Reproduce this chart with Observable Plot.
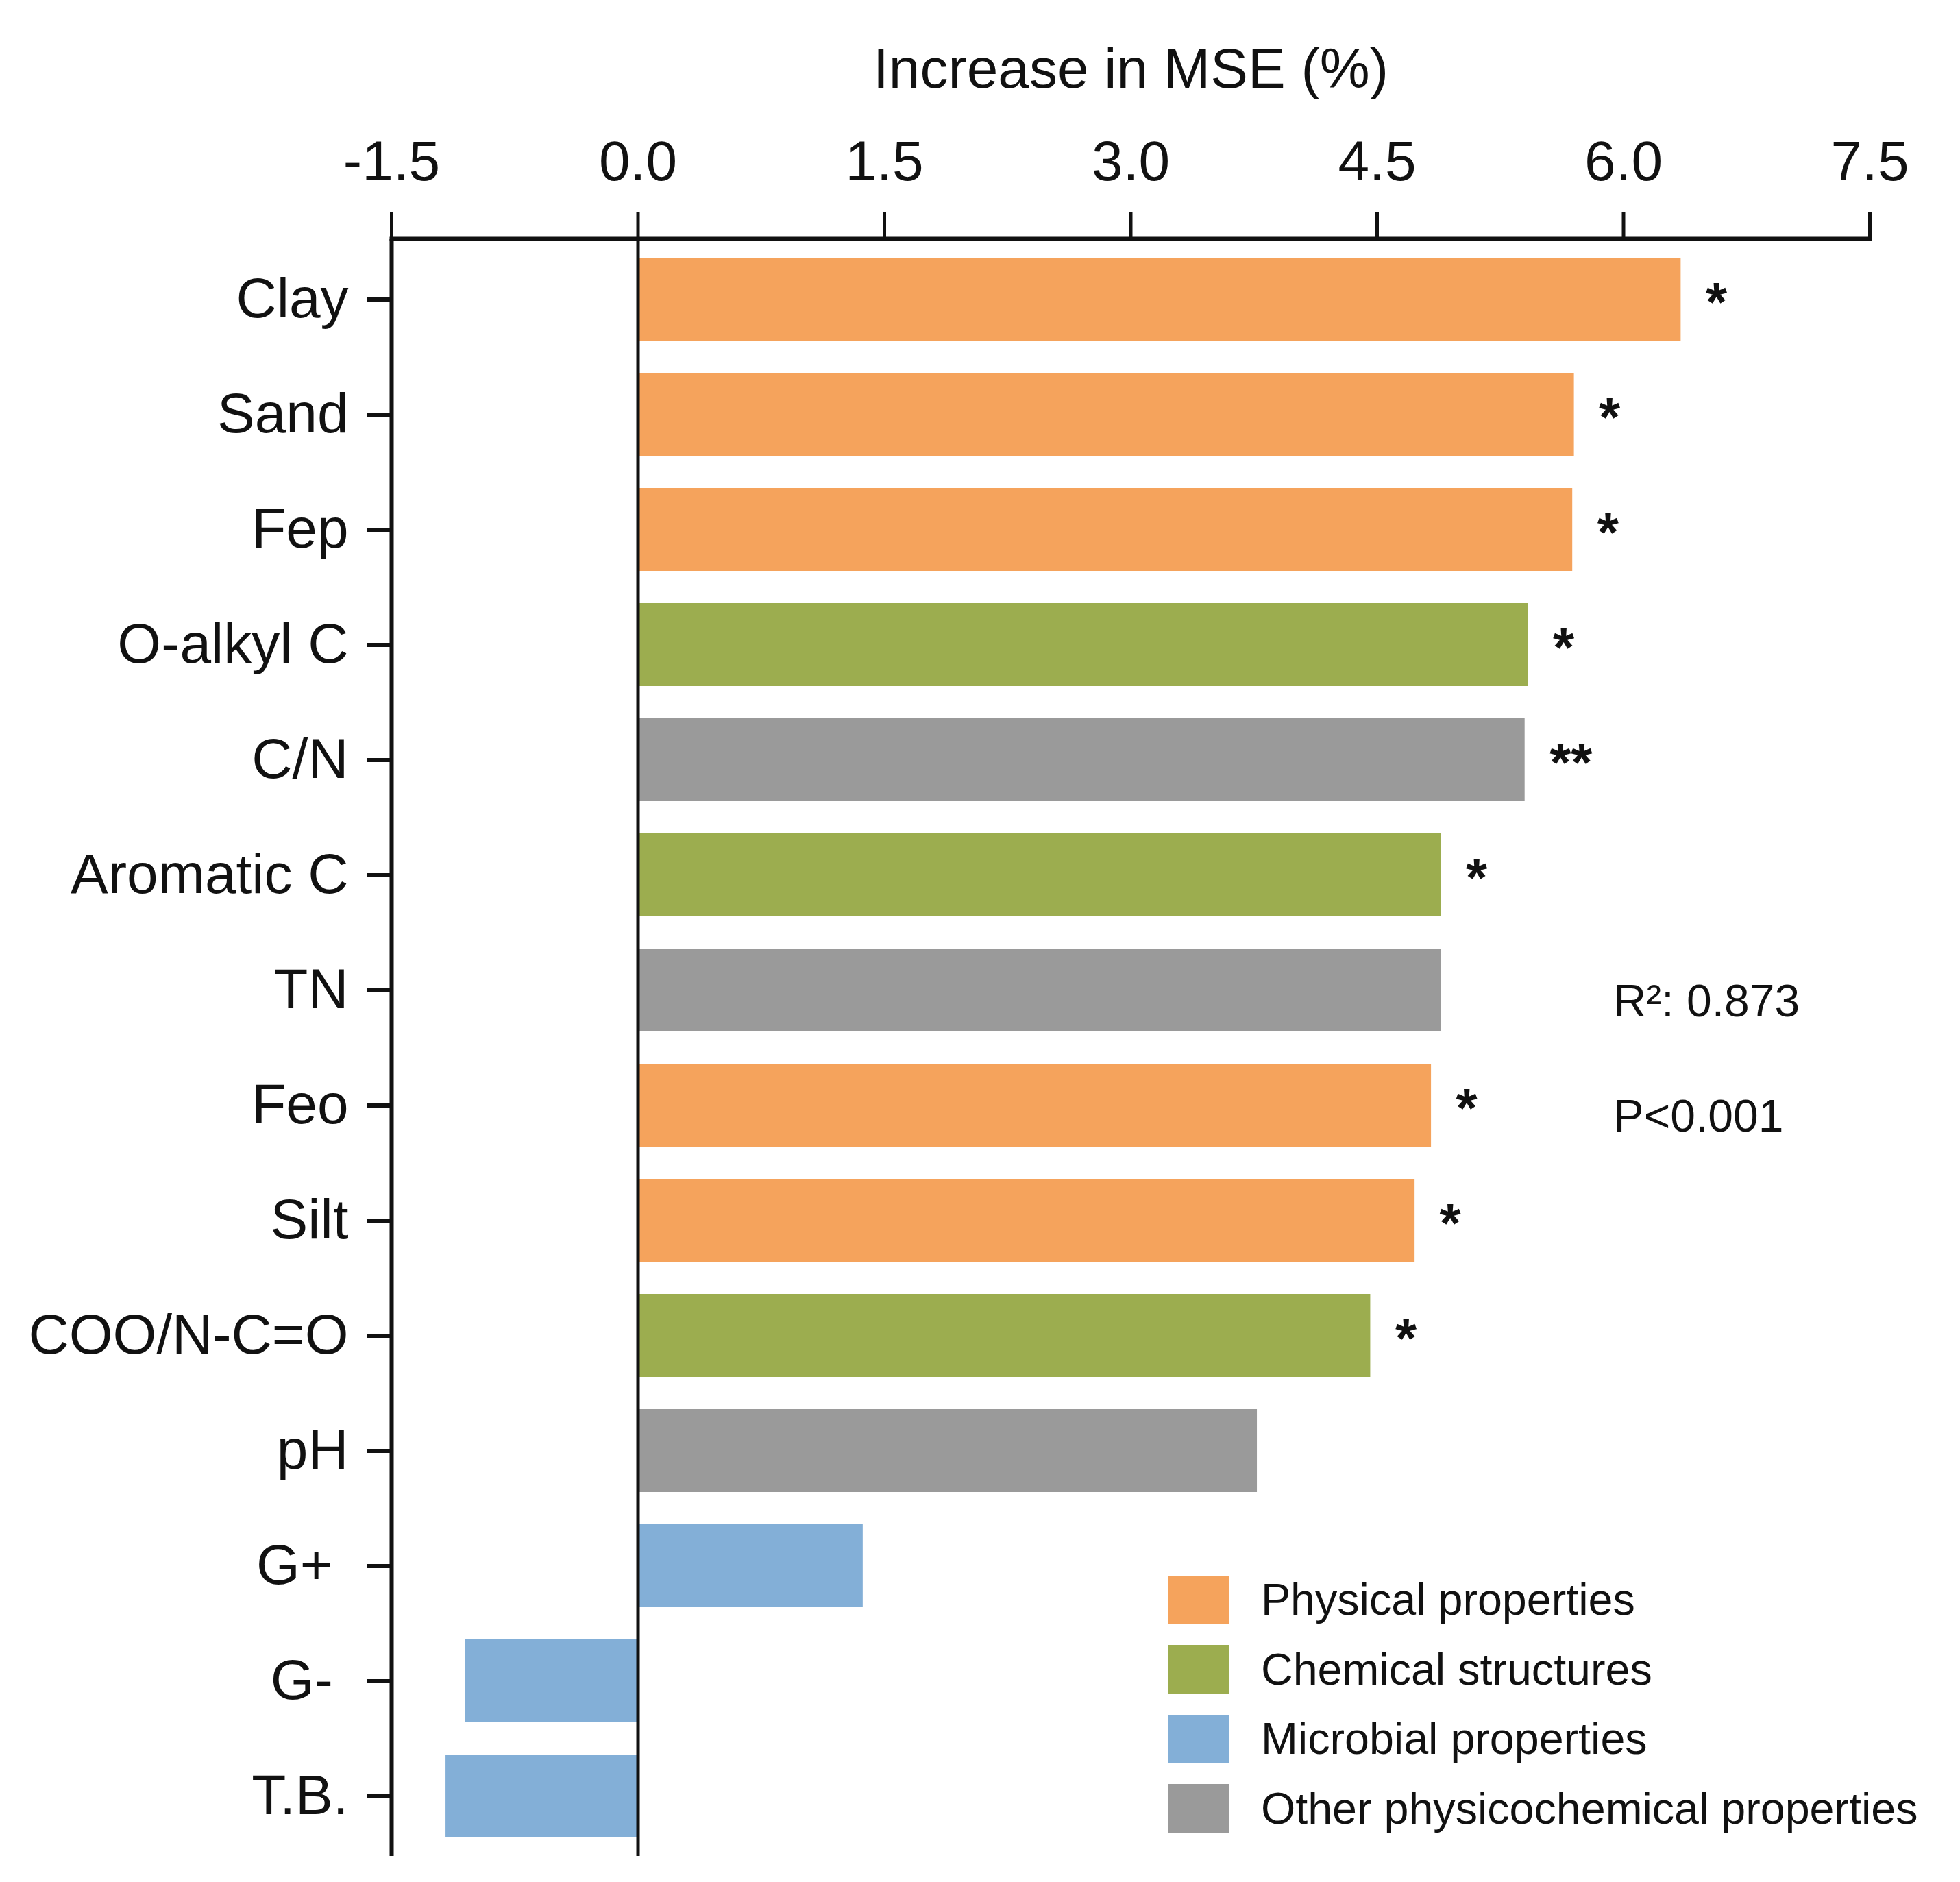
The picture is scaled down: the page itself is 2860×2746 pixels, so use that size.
<!DOCTYPE html>
<html>
<head>
<meta charset="utf-8">
<script src="https://cdn.jsdelivr.net/npm/d3@7"></script>
<script src="https://cdn.jsdelivr.net/npm/@observablehq/plot@0.6"></script>
<style>
  html, body { margin: 0; padding: 0; background: #fff; }
  #wrap { position: relative; width: 2860px; height: 2746px; }
  #legend { position: absolute; left: 1704px; top: 2297px; width: 1150px; }
  .lg-swatches { font-family: "Liberation Sans", Arial, sans-serif !important; font-size: 64.6px !important; color: #111 !important; margin: 0 !important; }
  .lg-swatch { padding-bottom: 27.5px !important; }
  .lg-swatch > svg { margin-right: 46px !important; }
</style>
</head>
<body>
<div id="wrap"><div id="legend"></div></div>
<script>
// ---- data ----
const variables = ["Clay", "Sand", "Fep", "O-alkyl C", "C/N", "Aromatic C", "TN", "Feo", "Silt", "COO/N-C=O", "pH", "G+", "G-", "T.B."];
const importance = [6.35, 5.70, 5.69, 5.42, 5.40, 4.89, 4.89, 4.83, 4.73, 4.46, 3.77, 1.37, -1.05, -1.17];
const groups = ["Physical properties", "Physical properties", "Physical properties", "Chemical structures", "Other physicochemical properties", "Chemical structures", "Other physicochemical properties", "Physical properties", "Physical properties", "Chemical structures", "Other physicochemical properties", "Microbial properties", "Microbial properties", "Microbial properties"];
const significance = ["*", "*", "*", "*", "**", "*", "", "*", "*", "*", "", "", "", ""];
const categories = ["Physical properties", "Chemical structures", "Microbial properties", "Other physicochemical properties"];
const palette = ["#F5A35C", "#9CAD4F", "#83AFD7", "#9A9A9A"];
const xTicks = [-1.5, 0, 1.5, 3.0, 4.5, 6.0, 7.5];
const xDomain = [-1.5, 7.5];
const statLabels = ["R²: 0.873", "P<0.001"];
const statRows = ["TN", "Feo"];
const statX = 5.94;
const axisTitle = "Increase in MSE (%)";

const rows = variables.map((v, i) => ({variable: v, value: importance[i], group: groups[i], sig: significance[i]}));
const stats = statLabels.map((t, i) => ({label: t, row: statRows[i], x: statX}));

const font = "Liberation Sans, Arial, sans-serif";
const ink = "#111";

const chart = Plot.plot({
  width: 2860,
  height: 2746,
  marginTop: 348,
  marginLeft: 571,
  marginRight: 132,
  marginBottom: 38,
  style: {fontFamily: font, background: "white", color: ink},
  x: {domain: xDomain},
  y: {domain: variables, paddingInner: 0.28, paddingOuter: 0.16},
  color: {domain: categories, range: palette},
  marks: [
    Plot.barX(rows, {x: "value", y: "variable", fill: "group"}),
    Plot.ruleX([0], {stroke: ink, strokeWidth: 5}),
    Plot.ruleX([xDomain[0]], {stroke: ink, strokeWidth: 6}),
    Plot.frame({anchor: "top", stroke: ink, strokeWidth: 6}),
    Plot.axisX({
      anchor: "top", ticks: xTicks, tickFormat: d => d.toFixed(1),
      tickSize: 40, tickPadding: 46, fontSize: 82, strokeWidth: 5, stroke: ink, fill: ink,
      label: axisTitle, labelAnchor: "center", labelArrow: "none", labelOffset: 279
    }),
    Plot.axisY({
      tickSize: 36, tickPadding: 27, fontSize: 82, strokeWidth: 6, stroke: ink, fill: ink,
      label: null, tickFormat: d => d.startsWith("G") ? d + "\u00a0" : d
    }),
    Plot.text(rows.filter(d => d.sig), {
      x: "value", y: "variable", text: "sig", textAnchor: "start",
      dx: 36, dy: 5, fontSize: 80, fontWeight: "bold", fill: ink
    }),
    Plot.text(stats, {
      x: "x", y: "row", text: "label", textAnchor: "start",
      dy: 17, fontSize: 66, fill: ink
    })
  ]
});
document.getElementById("wrap").prepend(chart);

const legend = Plot.legend({
  color: {domain: categories, range: palette},
  legend: "swatches",
  columns: 1,
  swatchWidth: 90,
  swatchHeight: 71,
  className: "lg"
});
document.getElementById("legend").appendChild(legend);
</script>
</body>
</html>
